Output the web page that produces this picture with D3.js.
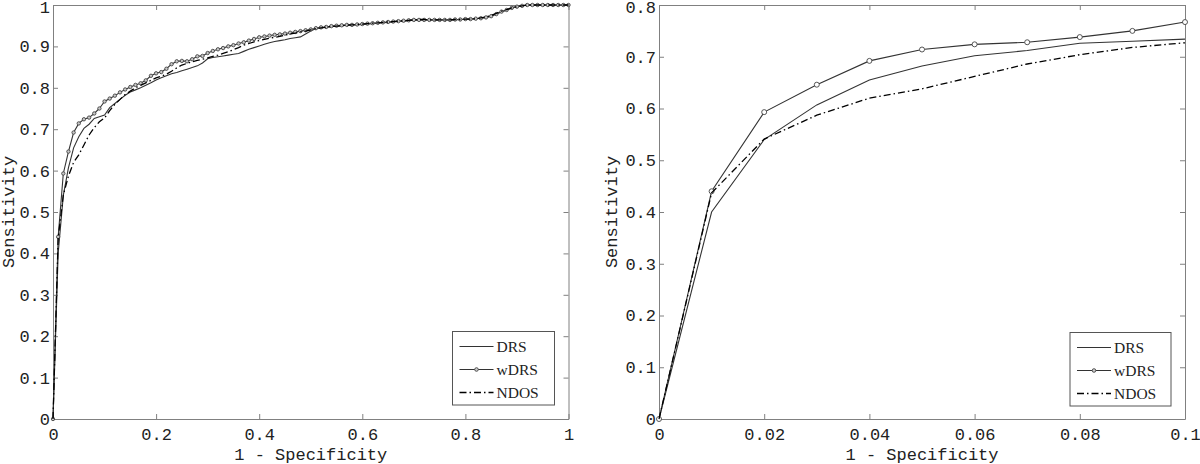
<!DOCTYPE html>
<html>
<head>
<meta charset="utf-8">
<script src="https://cdn.jsdelivr.net/npm/d3@7"></script>
<style>
  body { margin: 0; background: #fff; }
  .tick text { font-family: "Liberation Mono", "DejaVu Sans Mono", monospace; font-size: 17px; fill: #222; }
  .axis path, .axis line { stroke: #808080; }
  .alabel { font-family: "Liberation Mono", "DejaVu Sans Mono", monospace; font-size: 17px; fill: #222; }
  .legend text { font-family: "Liberation Serif", "Times New Roman", serif; font-size: 15.5px; fill: #222; }
</style>
</head>
<body>
<svg id="chart" width="1200" height="464"></svg>
<script>
// false positive rate grid (1 - specificity)
const fpr = [0,0.01,0.02,0.03,0.04,0.05,0.06,0.07,0.08,0.09,
  0.10,0.11,0.12,0.13,0.14,0.15,0.16,0.17,0.18,0.19,
  0.20,0.21,0.22,0.23,0.24,0.25,0.26,0.27,0.28,0.29,
  0.30,0.31,0.32,0.33,0.34,0.35,0.36,0.37,0.38,0.39,
  0.40,0.41,0.42,0.43,0.44,0.45,0.46,0.47,0.48,0.49,
  0.50,0.51,0.52,0.53,0.54,0.55,0.56,0.57,0.58,0.59,
  0.60,0.61,0.62,0.63,0.64,0.65,0.66,0.67,0.68,0.69,
  0.70,0.71,0.72,0.73,0.74,0.75,0.76,0.77,0.78,0.79,
  0.80,0.81,0.82,0.83,0.84,0.85,0.86,0.87,0.88,0.89,
  0.90,0.91,0.92,0.93,0.94,0.95,0.96,0.97,0.98,0.99,1.00];

const drs = [0,0.400,0.540,0.607,0.655,0.682,0.702,0.712,0.726,0.730,
  0.734,0.752,0.762,0.772,0.782,0.790,0.795,0.800,0.806,0.812,
  0.819,0.824,0.829,0.834,0.837,0.841,0.845,0.849,0.853,0.860,
  0.870,0.873,0.875,0.877,0.879,0.881,0.883,0.888,0.893,0.897,
  0.901,0.905,0.909,0.912,0.914,0.916,0.919,0.921,0.923,0.930,
  0.937,0.943,0.945,0.946,0.948,0.949,0.950,0.951,0.952,0.952,
  0.953,0.954,0.955,0.956,0.957,0.958,0.959,0.960,0.961,0.962,
  0.963,0.964,0.964,0.964,0.964,0.964,0.964,0.964,0.964,0.965,
  0.965,0.966,0.967,0.968,0.970,0.973,0.978,0.983,0.988,0.993,
  0.996,0.998,1,1,1,1,1,1,1,1,1];

const wdrs = [0,0.440,0.593,0.646,0.692,0.714,0.724,0.728,0.738,0.750,
  0.767,0.774,0.781,0.789,0.796,0.802,0.807,0.811,0.818,0.829,
  0.835,0.838,0.846,0.857,0.864,0.865,0.864,0.869,0.876,0.877,
  0.884,0.889,0.893,0.896,0.900,0.903,0.907,0.910,0.914,0.918,
  0.922,0.924,0.926,0.928,0.929,0.931,0.933,0.935,0.937,0.939,
  0.941,0.944,0.946,0.947,0.949,0.950,0.951,0.952,0.952,0.953,
  0.954,0.955,0.956,0.957,0.958,0.959,0.960,0.961,0.962,0.963,
  0.964,0.964,0.964,0.964,0.964,0.964,0.964,0.964,0.965,0.965,
  0.966,0.966,0.967,0.968,0.970,0.973,0.978,0.984,0.988,0.993,
  0.996,0.998,1,1,1,1,1,1,1,1,1];

const ndos = [0,0.437,0.541,0.587,0.620,0.638,0.662,0.686,0.704,0.718,
  0.727,0.745,0.760,0.772,0.784,0.792,0.800,0.806,0.812,0.818,
  0.824,0.828,0.833,0.840,0.848,0.855,0.859,0.863,0.866,0.869,
  0.872,0.876,0.879,0.883,0.887,0.892,0.897,0.903,0.907,0.911,
  0.914,0.917,0.920,0.922,0.924,0.927,0.930,0.932,0.935,0.937,
  0.940,0.943,0.945,0.947,0.948,0.949,0.950,0.951,0.952,0.953,
  0.954,0.955,0.956,0.957,0.958,0.959,0.960,0.961,0.962,0.963,
  0.964,0.965,0.965,0.964,0.964,0.964,0.964,0.964,0.965,0.965,
  0.966,0.966,0.967,0.969,0.971,0.975,0.980,0.985,0.989,0.993,
  0.996,0.998,1,1,1,1,1,1,1,1,1];

const seriesNames = ["DRS", "wDRS", "NDOS"];

const leftXTicks = [0, 0.2, 0.4, 0.6, 0.8, 1];
const leftYTicks = [0, 0.1, 0.2, 0.3, 0.4, 0.5, 0.6, 0.7, 0.8, 0.9, 1];
const rightXTicks = [0, 0.02, 0.04, 0.06, 0.08, 0.1];
const rightYTicks = [0, 0.1, 0.2, 0.3, 0.4, 0.5, 0.6, 0.7, 0.8];

const svg = d3.select("#chart");

const styles = {
  DRS: { stroke: "#333", width: 1.1, dash: null },
  wDRS: { stroke: "#333", width: 1.1, dash: null },
  NDOS: { stroke: "#000", width: 1.3, dash: "7,3,1.5,3" }
};

function panel(opts) {
  const x = d3.scaleLinear().domain(opts.xDomain).range([opts.left, opts.right]);
  const y = d3.scaleLinear().domain(opts.yDomain).range([opts.bottom, opts.top]);
  const g = svg.append("g");
  const fmt = d => d3.format("~g")(d);

  g.append("g").attr("class", "axis")
    .attr("transform", `translate(0,${opts.bottom})`)
    .call(d3.axisBottom(x).tickValues(opts.xTicks).tickFormat(fmt).tickSizeInner(-5).tickSizeOuter(0).tickPadding(9));
  g.append("g").attr("class", "axis")
    .attr("transform", `translate(0,${opts.top})`)
    .call(d3.axisTop(x).tickValues(opts.xTicks).tickFormat("").tickSizeInner(-5).tickSizeOuter(0));
  const yAxis = g.append("g").attr("class", "axis")
    .attr("transform", `translate(${opts.left},0)`)
    .call(d3.axisLeft(y).tickValues(opts.yTicks).tickFormat(fmt).tickSizeInner(-5).tickSizeOuter(0).tickPadding(3));
  // keep the top label inside the page
  yAxis.selectAll(".tick text").filter(d => d === opts.yDomain[1]).attr("y", 2);
  g.append("g").attr("class", "axis")
    .attr("transform", `translate(${opts.right},0)`)
    .call(d3.axisRight(y).tickValues(opts.yTicks).tickFormat("").tickSizeInner(-5).tickSizeOuter(0));

  g.selectAll(".axis .domain").attr("stroke", "#808080");

  const n = opts.n;
  const xs = fpr.slice(0, n);
  const data = { DRS: drs.slice(0, n), wDRS: wdrs.slice(0, n), NDOS: ndos.slice(0, n) };

  const line = d3.line().x(d => x(d[0])).y(d => y(d[1]));
  seriesNames.forEach(name => {
    const pts = xs.map((v, i) => [v, data[name][i]]);
    const s = styles[name];
    g.append("path").datum(pts)
      .attr("fill", "none")
      .attr("stroke", s.stroke)
      .attr("stroke-width", s.width)
      .attr("stroke-dasharray", s.dash)
      .attr("d", line);
    if (name === "wDRS") {
      g.selectAll(null).data(pts).enter().append("circle")
        .attr("cx", d => x(d[0])).attr("cy", d => y(d[1]))
        .attr("r", opts.markerR)
        .attr("fill", opts.markerFill)
        .attr("stroke", "#444")
        .attr("stroke-width", 0.9);
    }
  });

  // axis labels
  g.append("text").attr("class", "alabel")
    .attr("x", (opts.left + opts.right) / 2).attr("y", 460)
    .attr("text-anchor", "middle").text("1 - Specificity");
  g.append("text").attr("class", "alabel")
    .attr("transform", `translate(${opts.ylabX},${(opts.top + opts.bottom) / 2}) rotate(-90)`)
    .attr("text-anchor", "middle").text("Sensitivity");

  // legend
  const L = opts.legend;
  const lg = g.append("g").attr("class", "legend");
  lg.append("rect").attr("x", L.x).attr("y", L.y).attr("width", L.w).attr("height", L.h)
    .attr("fill", "#fff").attr("stroke", "#555").attr("stroke-width", 1);
  seriesNames.forEach((name, i) => {
    const cy = L.y + 15 + i * 23;
    const s = styles[name];
    lg.append("line").attr("x1", L.x + 7).attr("x2", L.x + 41).attr("y1", cy).attr("y2", cy)
      .attr("stroke", s.stroke).attr("stroke-width", s.width).attr("stroke-dasharray", s.dash);
    if (name === "wDRS") {
      lg.append("circle").attr("cx", L.x + 24).attr("cy", cy).attr("r", 1.8)
        .attr("fill", "#ccc").attr("stroke", "#444").attr("stroke-width", 0.9);
    }
    lg.append("text").attr("x", L.x + 44).attr("y", cy + 5).text(name);
  });
}

panel({
  left: 53, right: 568.5, top: 5, bottom: 419,
  xDomain: [0, 1], yDomain: [0, 1],
  xTicks: leftXTicks, yTicks: leftYTicks,
  n: fpr.length, markerR: 1.7, markerFill: "#c8c8c8",
  ylabX: 14,
  legend: { x: 452.5, y: 331.5, w: 102, h: 73.5 }
});

panel({
  left: 659, right: 1185, top: 5, bottom: 419,
  xDomain: [0, 0.1], yDomain: [0, 0.8],
  xTicks: rightXTicks, yTicks: rightYTicks,
  n: 11, markerR: 2.5, markerFill: "#fff",
  ylabX: 617,
  legend: { x: 1070, y: 332.5, w: 101, h: 73.5 }
});
</script>
</body>
</html>
